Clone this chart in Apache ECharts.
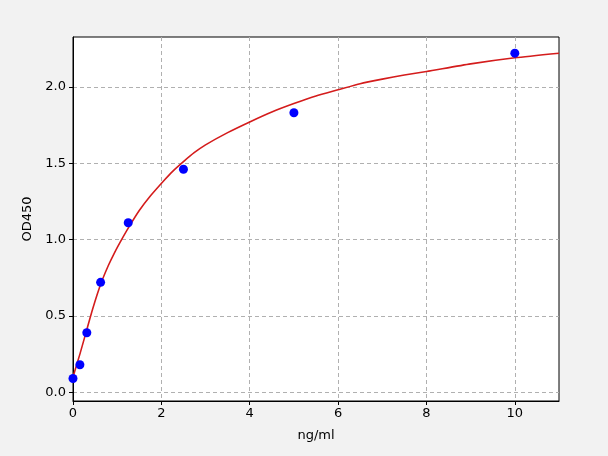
<!DOCTYPE html>
<html>
<head>
<meta charset="utf-8">
<script src="https://cdn.jsdelivr.net/npm/echarts@6/dist/echarts.min.js"></script>
<style>
  html, body { margin: 0; padding: 0; background: #f2f2f2; }
  #main { width: 608px; height: 456px; }
</style>
</head>
<body>
<div id="main"></div>
<script>
// measured standards (ng/ml, OD450)
var pointX = [0, 0.156, 0.3125, 0.625, 1.25, 2.5, 5, 10];
var pointY = [0.09, 0.18, 0.39, 0.72, 1.11, 1.46, 1.83, 2.22];

// fitted curve
var curveX = [0, 0.156, 0.3125, 0.45, 0.63, 0.8, 0.95, 1.1, 1.26, 1.5, 1.75, 2.07, 2.25, 2.5, 2.75, 3, 3.5, 4, 4.5, 5, 5.5, 6, 6.5, 7, 7.5, 8, 9, 10, 11];
var curveY = [0.10, 0.25, 0.41, 0.55, 0.71, 0.83, 0.92, 1.00, 1.08, 1.19, 1.285, 1.39, 1.445, 1.51, 1.57, 1.62, 1.70, 1.77, 1.835, 1.89, 1.94, 1.98, 2.02, 2.05, 2.077, 2.10, 2.15, 2.19, 2.22];

var xTicks = [0, 2, 4, 6, 8, 10];
var yTicks = [0, 0.5, 1, 1.5, 2];

function pairs(xs, ys) {
  var out = [];
  for (var i = 0; i < xs.length; i++) {
    out.push([xs[i], ys[i]]);
  }
  return out;
}

var font = 'DejaVu Sans';
var myChart = echarts.init(document.getElementById('main'));
var option = {
  backgroundColor: '#f2f2f2',
  animation: false,
  grid: {
    left: 73, right: 49, top: 37, bottom: 55,
    show: true,
    backgroundColor: '#ffffff',
    borderColor: '#000000',
    borderWidth: 1
  },
  xAxis: {
    type: 'value',
    min: 0,
    max: 11,
    name: 'ng/ml',
    nameLocation: 'middle',
    nameGap: 28,
    nameTextStyle: { fontFamily: font, fontSize: 13, color: '#000' },
    axisLine: { show: true, onZero: false, lineStyle: { color: '#000', width: 1 } },
    axisTick: { show: true, inside: false, length: 4, customValues: xTicks, lineStyle: { color: '#000' } },
    axisLabel: { customValues: xTicks, fontFamily: font, fontSize: 13, color: '#000', margin: 6,
      formatter: function (v) { return String(v); } },
    splitLine: { show: true, lineStyle: { color: '#b0b0b0', type: [4, 3], width: 1 } }
  },
  yAxis: {
    type: 'value',
    min: -0.057,
    max: 2.326,
    name: 'OD450',
    nameLocation: 'middle',
    nameGap: 36,
    nameTextStyle: { fontFamily: font, fontSize: 13, color: '#000' },
    axisLine: { show: true, onZero: false, lineStyle: { color: '#000', width: 1 } },
    axisTick: { show: true, inside: false, length: 4, customValues: yTicks, lineStyle: { color: '#000' } },
    axisLabel: { customValues: yTicks, fontFamily: font, fontSize: 13, color: '#000', margin: 7,
      formatter: function (v) { return v.toFixed(1); } },
    splitLine: { show: true, lineStyle: { color: '#b0b0b0', type: [4, 3], width: 1 } }
  },
  series: [
    {
      name: 'fit',
      type: 'line',
      data: pairs(curveX, curveY),
      smooth: 0.2,
      showSymbol: false,
      z: 2,
      lineStyle: { color: '#d41c1c', width: 1.6, join: 'round' }
    },
    {
      name: 'standards',
      type: 'scatter',
      data: pairs(pointX, pointY),
      symbolSize: 9,
      z: 3,
      itemStyle: { color: '#0000ff', opacity: 1 }
    }
  ]
};
myChart.setOption(option);
</script>
</body>
</html>
